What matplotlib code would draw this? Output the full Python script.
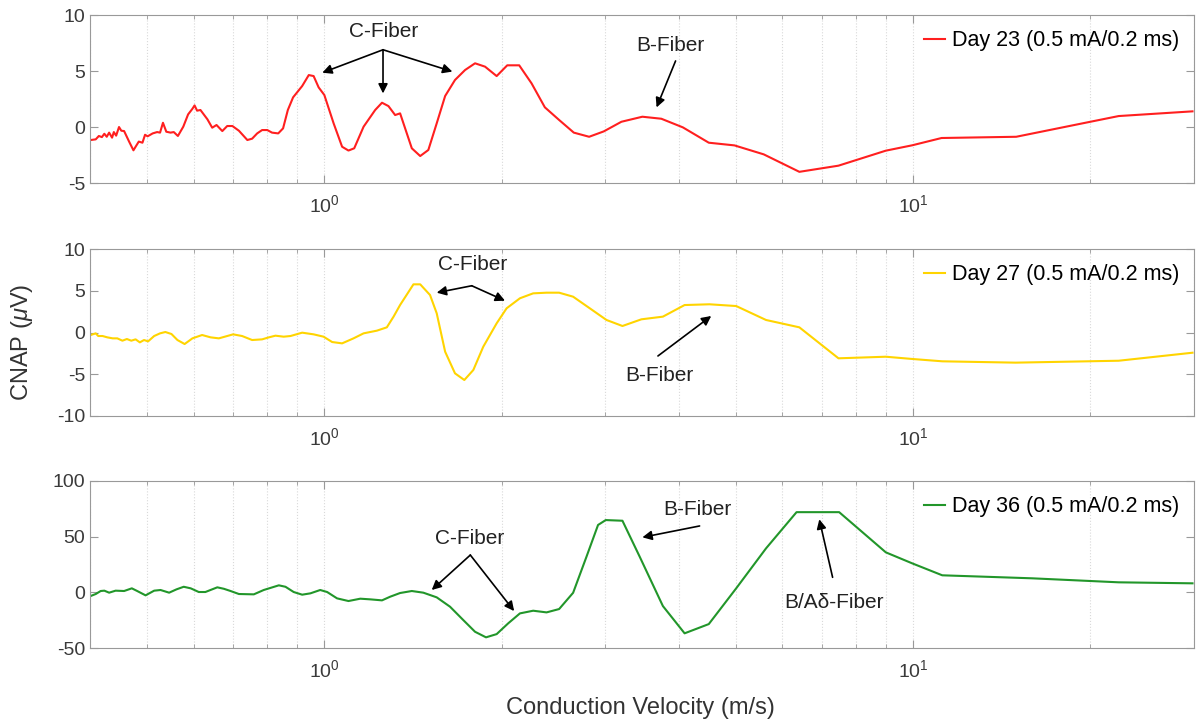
import matplotlib
matplotlib.use('Agg')
import matplotlib.pyplot as plt
import matplotlib.ticker as mticker

plt.rcParams['font.family'] = ['Liberation Sans', 'DejaVu Sans']
plt.rcParams['mathtext.fontset'] = 'custom'
plt.rcParams['mathtext.rm'] = 'Liberation Sans'
plt.rcParams['mathtext.it'] = 'Liberation Sans:italic'
plt.rcParams['axes.unicode_minus'] = False

# ---- data (conduction velocity m/s, CNAP uV) ----
v23 = [0.401, 0.409, 0.414, 0.419, 0.423, 0.427, 0.431, 0.436, 0.439, 0.443, 0.448, 0.452,
       0.457, 0.466, 0.474, 0.478, 0.484, 0.491, 0.496, 0.501, 0.511, 0.520, 0.526, 0.532,
       0.539, 0.548, 0.555, 0.564, 0.576, 0.587, 0.597, 0.602, 0.608, 0.616, 0.633, 0.645,
       0.656, 0.671, 0.684, 0.698, 0.716, 0.740, 0.754, 0.769, 0.784, 0.800, 0.815, 0.835,
       0.851, 0.867, 0.885, 0.917, 0.941, 0.959, 0.978, 1.00, 1.037, 1.072, 1.099, 1.124,
       1.166, 1.220, 1.253, 1.285, 1.319, 1.345, 1.408, 1.455, 1.502, 1.552, 1.604, 1.667,
       1.734, 1.803, 1.875, 1.962, 2.045, 2.143, 2.249, 2.369, 2.505, 2.653, 2.817, 2.983,
       3.196, 3.469, 3.736, 4.064, 4.498, 4.973, 5.576, 6.410, 7.470, 8.990, 9.97, 11.18,
       14.97, 19.62, 22.35, 29.83]
cnap23 = [-1.16, -1.1, -0.8, -0.9, -0.6, -0.87, -0.5, -0.95, -0.45, -0.77, 0.0, -0.33,
          -0.36, -1.3, -2.08, -1.76, -1.3, -1.4, -0.69, -0.83, -0.57, -0.45, -0.5, 0.38,
          -0.42, -0.5, -0.45, -0.8, 0.03, 1.13, 1.63, 1.93, 1.46, 1.52, 0.69, -0.06,
          0.18, -0.36, 0.09, 0.09, -0.33, -1.16, -1.04, -0.57, -0.27, -0.27, -0.5, -0.57,
          -0.12, 1.52, 2.65, 3.66, 4.64, 4.55, 3.54, 2.86, 0.33, -1.76, -2.1, -1.9,
          0.03, 1.52, 2.17, 1.87, 1.07, 1.22, -1.9, -2.59, -2.05, 0.33, 2.77, 4.2,
          5.09, 5.69, 5.39, 4.55, 5.51, 5.51, 3.9, 1.76, 0.63, -0.5, -0.87, -0.39,
          0.47, 0.92, 0.74, -0.03, -1.4, -1.64, -2.44, -4.0, -3.45, -2.11, -1.63, -0.98,
          -0.87, 0.38, 0.98, 1.4]

v27 = [0.401, 0.409, 0.413, 0.420, 0.428, 0.437, 0.445, 0.454, 0.462, 0.470, 0.478, 0.486,
       0.494, 0.502, 0.514, 0.526, 0.537, 0.550, 0.563, 0.579, 0.597, 0.620, 0.641, 0.662,
       0.700, 0.725, 0.754, 0.784, 0.805, 0.826, 0.853, 0.876, 0.917, 0.959, 0.997, 1.031,
       1.072, 1.121, 1.166, 1.228, 1.277, 1.311, 1.345, 1.417, 1.455, 1.512, 1.552, 1.604,
       1.667, 1.729, 1.791, 1.862, 1.962, 2.040, 2.149, 2.263, 2.385, 2.505, 2.646, 2.824,
       3.015, 3.209, 3.456, 3.759, 4.092, 4.510, 5.007, 5.627, 6.410, 7.470, 8.990, 9.97,
       11.21, 14.93, 22.35, 29.83]
cnap27 = [-0.3, -0.1, -0.42, -0.42, -0.58, -0.7, -0.7, -0.98, -0.78, -0.98, -0.82, -1.18,
          -0.9, -1.06, -0.42, -0.1, 0.06, -0.18, -0.9, -1.38, -0.7, -0.3, -0.58, -0.7,
          -0.22, -0.42, -0.9, -0.82, -0.58, -0.38, -0.5, -0.42, -0.02, -0.22, -0.5, -1.14,
          -1.3, -0.7, -0.1, 0.22, 0.62, 1.9, 3.3, 5.77, 5.77, 4.49, 2.3, -2.3,
          -4.89, -5.69, -4.49, -1.7, 1.1, 2.9, 4.1, 4.69, 4.77, 4.77, 4.29, 2.9,
          1.5, 0.78, 1.58, 1.9, 3.29, 3.38, 3.17, 1.5, 0.62, -3.09, -2.9, -3.17,
          -3.45, -3.61, -3.38, -2.42]

v36 = [0.401, 0.409, 0.417, 0.423, 0.431, 0.442, 0.457, 0.471, 0.481, 0.497, 0.514, 0.527,
       0.545, 0.561, 0.577, 0.593, 0.612, 0.628, 0.658, 0.675, 0.693, 0.716, 0.759, 0.789,
       0.837, 0.859, 0.887, 0.917, 0.947, 0.984, 1.011, 1.051, 1.099, 1.151, 1.197, 1.253,
       1.294, 1.345, 1.408, 1.473, 1.552, 1.635, 1.722, 1.803, 1.882, 1.962, 2.053, 2.149,
       2.263, 2.385, 2.505, 2.646, 2.788, 2.917, 3.006, 3.209, 3.433, 3.759, 4.092, 4.498,
       5.007, 5.627, 6.34, 7.49, 8.99, 9.97, 11.21, 15.93, 22.35, 29.83]
cnap36 = [-3.3, -1.5, 1.2, 1.5, -0.3, 1.5, 1.2, 3.6, 1.2, -2.7, 1.5, 2.1,
          -0.3, 2.7, 5.0, 3.6, 0.3, 0.3, 4.5, 3.2, 1.2, -1.5, -1.8, 2.1,
          6.3, 5.0, 0.3, -2.1, -0.9, 2.1, 0.3, -5.4, -7.8, -5.7, -6.3, -7.2,
          -3.9, -0.6, 1.2, -0.3, -4.5, -12.9, -24.9, -35.4, -40.4, -37.5, -27.8, -18.9,
          -16.5, -18.0, -15.0, -0.4, 32.0, 60.5, 64.9, 64.3, 32.0, -12.3, -36.8, -28.5,
          3.6, 39.5, 72.0, 72.0, 35.9, 26.0, 15.3, 12.6, 9.0, 8.1]

labels = ['Day 23 (0.5 mA/0.2 ms)', 'Day 27 (0.5 mA/0.2 ms)', 'Day 36 (0.5 mA/0.2 ms)']
colors = ['#ff1f1f', '#ffd400', '#22962a']
ylims = [(-5, 10), (-10, 10), (-50, 100)]
yticks = [[-5, 0, 5, 10], [-10, -5, 0, 5, 10], [-50, 0, 50, 100]]

# annotations: (text, text_xy, tail_xy, [heads])
notes = [
    [('C-Fiber', (1.259, 8.5), (1.258, 6.9), [(0.992, 4.85), (1.258, 3.0), (1.650, 4.95)]),
     ('B-Fiber', (3.87, 7.3), (3.95, 5.9), [(3.667, 1.75)])],
    [('C-Fiber', (1.789, 8.1), (1.78, 5.6), [(1.552, 4.77), (2.027, 3.81)]),
     ('B-Fiber', (3.71, -5.2), (3.687, -2.81), [(4.541, 1.98)])],
    [('C-Fiber', (1.768, 48.5), (1.77, 33.5), [(1.522, 2.1), (2.101, -16.8)]),
     ('B-Fiber', (4.309, 74), (4.339, 59.6), [(3.469, 49.4)]),
     ('B/A\u03b4-Fiber', (7.345, -8.7), (7.3, 13.5), [(6.93, 65.6)])],
]

fig = plt.figure(figsize=(11.99, 7.26), dpi=100)
rects = [[0.0751, 0.7479, 0.9207, 0.2314],
         [0.0751, 0.4270, 0.9207, 0.2300],
         [0.0751, 0.1074, 0.9207, 0.2301]]

series = [(v23, cnap23), (v27, cnap27), (v36, cnap36)]
for i, (x, y) in enumerate(series):
    ax = fig.add_axes(rects[i])
    ax.plot(x, y, color=colors[i], lw=1.5, label=labels[i])
    ax.set_xscale('log')
    ax.set_xlim(0.4, 30)
    ax.set_ylim(*ylims[i])
    ax.set_yticks(yticks[i])
    ax.xaxis.set_minor_formatter(mticker.NullFormatter())
    ax.grid(True, which='both', axis='x', color='#d9d9d9', ls=':', lw=0.8)
    for s in ax.spines.values():
        s.set_color('#999999')
    ax.tick_params(which='both', direction='in', top=True, right=True,
                   colors='#999999', labelcolor='#3a3a3a', labelsize=14)
    ax.tick_params(which='major', length=6)
    ax.tick_params(which='minor', length=3)
    ax.tick_params(axis='x', pad=8)
    ax.legend(loc='upper right', frameon=False, fontsize=15.5, handlelength=1.0,
              handletextpad=0.3, borderaxespad=0.3)
    for txt, txy, tail, heads in notes[i]:
        ax.text(txy[0], txy[1], txt, ha='center', va='center', fontsize=15, color='#222222')
        for h in heads:
            ax.annotate('', xy=h, xytext=tail,
                        arrowprops=dict(arrowstyle='-|>', color='black', lw=1.2,
                                        mutation_scale=14, shrinkA=0, shrinkB=0))

fig.text(0.018, 0.529, r'CNAP ($\mu$V)', rotation=90, ha='center', va='center',
         fontsize=17, color='#333333')
fig.text(0.534, 0.025, 'Conduction Velocity (m/s)', ha='center', va='center',
         fontsize=17, color='#333333')

fig.savefig('out.png', dpi=100, facecolor='white')
